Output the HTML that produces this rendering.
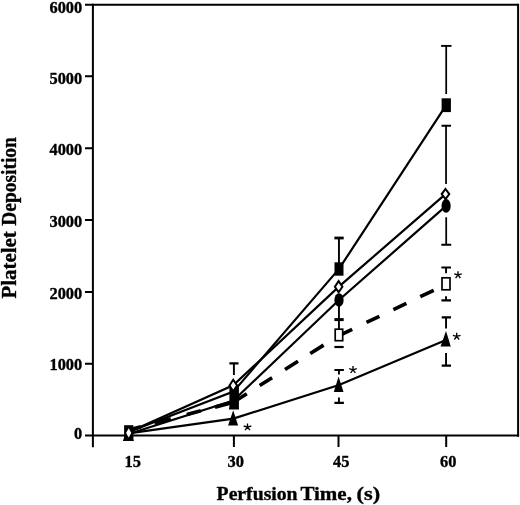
<!DOCTYPE html>
<html>
<head>
<meta charset="utf-8">
<title>Platelet Deposition vs Perfusion Time</title>
<style>
  html, body { margin: 0; padding: 0; background: #ffffff; }
  body { width: 520px; height: 505px; overflow: hidden; }
  svg { display: block; filter: grayscale(1); }
  text { font-family: "Liberation Serif", serif; font-weight: bold; fill: #000; stroke: #000; stroke-width: 0.35px; stroke-linejoin: round; }
  .tick { font-size: 16.4px; }
  .title { font-size: 19.2px; }
  .ytitle { font-size: 21px; }
  .ax { stroke: #000; stroke-width: 2; fill: none; stroke-linecap: butt; }
  .ln { stroke: #000; stroke-width: 2.2; fill: none; }
  .dash { stroke: #000; stroke-width: 3.7; fill: none; }
  .eb { stroke: #000; stroke-width: 1.9; fill: none; }
  .cap { stroke: #000; stroke-width: 2.2; fill: none; }
  .fill { fill: #000; stroke: none; }
  .open { fill: #fff; stroke: #000; stroke-width: 1.7; }
  .dia { fill: #fff; stroke: #000; stroke-width: 2; stroke-linejoin: miter; }
  .star { font-family: "Liberation Sans", sans-serif; font-weight: bold; font-size: 17px; }
</style>
</head>
<body>
<svg width="520" height="505" viewBox="0 0 520 505">
  <rect x="0" y="0" width="520" height="505" fill="#ffffff"/>

  <!-- frame -->
  <g id="frame">
    <path class="ax" d="M92.9 3.8 V447.2"/>
    <path class="ax" d="M85 4.8 H518"/>
    <path class="ax" d="M518.1 3.8 V436.7"/>
    <path class="ax" d="M85 435.55 H519.1"/>
    <!-- y ticks -->
    <path class="ax" d="M85 76.3 H93 M85 148.2 H93 M85 220 H93 M85 291.9 H93 M85 363.7 H93"/>
    <!-- x ticks -->
    <path class="ax" d="M233.9 435 V447.1 M338.5 435 V447.1 M446.2 435 V447.1"/>
  </g>

  <!-- y tick labels -->
  <g id="ylabels" class="tick" text-anchor="end">
    <text transform="translate(82.2 13.1) scale(1 1.06)">6000</text>
    <text transform="translate(82.2 83.6) scale(1 1.06)">5000</text>
    <text transform="translate(82.2 154.7) scale(1 1.06)">4000</text>
    <text transform="translate(82.2 227.3) scale(1 1.06)">3000</text>
    <text transform="translate(82.2 299.1) scale(1 1.06)">2000</text>
    <text transform="translate(82.2 369.6) scale(1 1.06)">1000</text>
    <text transform="translate(82.2 439.2) scale(1 1.06)">0</text>
  </g>

  <!-- x tick labels -->
  <g id="xlabels" class="tick" text-anchor="middle">
    <text transform="translate(132.8 467.3) scale(1 1.06)">15</text>
    <text transform="translate(235.8 467.3) scale(1 1.06)">30</text>
    <text transform="translate(341.3 467.3) scale(1 1.06)">45</text>
    <text transform="translate(448.3 467.3) scale(1 1.06)">60</text>
  </g>

  <!-- axis titles -->
  <text class="title" x="216.6" y="499.6" textLength="81" lengthAdjust="spacingAndGlyphs">Perfusion</text>
  <text class="title" x="300.4" y="499.6" textLength="51.5" lengthAdjust="spacingAndGlyphs">Time,</text>
  <text class="title" x="356.6" y="499.6" textLength="23.6" lengthAdjust="spacingAndGlyphs">(s)</text>
  <text class="ytitle" transform="translate(15.6 298.4) rotate(-90)" textLength="67" lengthAdjust="spacingAndGlyphs">Platelet</text>
  <text class="ytitle" transform="translate(15.6 225.7) rotate(-90)" textLength="88.6" lengthAdjust="spacingAndGlyphs">Deposition</text>

  <!-- series lines -->
  <g id="lines">
    <!-- filled square -->
    <path class="ln" d="M128.5 432 L233.4 391.6 L339 268.9 L446.2 105.2"/>
    <!-- open diamond -->
    <path class="ln" d="M128.5 432.2 L233.2 385.3 L338.6 286.9 L445.5 194.1"/>
    <!-- filled circle -->
    <path class="ln" d="M128.5 434 L233.4 400.6 L339 300 L446.1 205.9"/>
    <!-- triangle -->
    <path class="ln" d="M128.5 433.3 L233.4 418.6 L339 385 L446 340"/>
    <!-- open square dashed -->
    <path class="dash" d="M128.5 430.0 L141.0 426.7 M154.5 423.1 L170.8 418.8 M186.8 414.5 L200.8 410.8 M215.0 407.1 L233.4 402.2"/>
    <path class="dash" d="M233.4 402.2 L246.8 393.7 M259.7 385.5 L272.1 377.7 M285.0 369.5 L298.0 361.3 M310.3 353.5 L323.6 345.1"/>
    <path class="dash" d="M339.0 335.6 L352.2 329.3 M366.5 322.4 L379.4 316.3 M393.4 309.6 L406.4 303.3 M420.3 296.7 L433.7 290.3"/>
  </g>

  <!-- error bars -->
  <g id="errorbars">
    <!-- x=30 -->
    <path class="eb" d="M233.9 363.3 V375"/>
    <path class="cap" d="M229.4 363.3 H238.5 M229 408.5 H239"/>
    <!-- x=45 filled square up -->
    <path class="eb" d="M338.95 238 V263"/>
    <path class="cap" d="M334.4 238 H343.7" style="stroke-width:2.8"/>
    <!-- x=45 circle down / open sq up -->
    <path class="eb" d="M338.95 305 V329"/>
    <path class="cap" d="M334.4 319.6 H343.7" style="stroke-width:3"/>
    <!-- open sq down -->
    <path class="cap" d="M334.4 347 H343.7"/>
    <!-- x=45 triangle -->
    <path class="eb" d="M338.95 370 V374.6 M338.95 397.6 V402.9"/>
    <path class="cap" d="M334.4 370 H343.9 M334.4 402.9 H343.9"/>
    <!-- x=60 filled square up -->
    <path class="eb" d="M446.2 46 V94" style="stroke-width:1.75"/>
    <path class="cap" d="M441.1 45.9 H451.5" style="stroke-width:1.9"/>
    <!-- x=60 diamond up / circle down -->
    <path class="eb" d="M446.05 125.7 V184 M446.2 217.2 V244.6" style="stroke-width:1.75"/>
    <path class="cap" d="M441.5 125.7 H451 M441.3 244.7 H451.2" style="stroke-width:1.9"/>
    <!-- x=60 open square -->
    <path class="eb" d="M446.05 267.5 V273.2 M446.05 296.3 V300.3"/>
    <path class="cap" d="M441.4 267.5 H451 M441.4 300.3 H451"/>
    <!-- x=60 triangle -->
    <path class="eb" d="M446.05 317.4 V328.4 M446.05 352.9 V365.7"/>
    <path class="cap" d="M441.7 317.4 H451 M441.7 365.7 H451"/>
  </g>

  <!-- markers -->
  <g id="markers">
    <!-- x=15 cluster -->
    <polygon class="fill" points="128.4,426 133.8,441 122.8,441"/>
    <rect class="fill" x="124.1" y="425.2" width="9.3" height="15.7"/>
    <polygon points="128.7,428.3 131.3,432.9 128.7,437.5 126.1,432.9" fill="#fff"/>

    <!-- x=30 cluster -->
    <rect class="fill" x="229.4" y="386.7" width="9.5" height="21.8"/>
    <polygon class="dia" points="233.2,379.8 237.1,385.5 233.2,391.2 229.5,385.5"/>
    <polygon class="fill" points="233.2,410.2 238.1,425.6 228.1,425.6"/>

    <!-- x=45 -->
    <rect class="fill" x="334.5" y="262.3" width="9" height="13.4"/>
    <polygon class="dia" points="338.6,281.1 342.4,286.7 338.6,292.3 334.9,286.7"/>
    <ellipse class="fill" cx="339" cy="300" rx="4.65" ry="6.8"/>
    <rect class="open" x="335.2" y="329.2" width="7.5" height="11.5"/>
    <polygon class="fill" points="338.6,376.6 343.5,391.9 333.8,391.9"/>

    <!-- x=60 -->
    <rect class="fill" x="441.6" y="98.3" width="9.3" height="13.8"/>
    <polygon class="dia" points="445.5,189 449.3,194.1 445.5,199.2 441.7,194.1"/>
    <ellipse class="fill" cx="446.1" cy="205.9" rx="4.6" ry="6.8"/>
    <rect class="open" x="442" y="277.8" width="8" height="12"/>
    <polygon class="fill" points="446,331 450.8,346.5 440.6,346.5"/>
  </g>

  <!-- significance stars -->
  <defs>
    <path id="ast" d="M0 0 L0 -3.7 M0 0 L-3.8 -1.1 M0 0 L3.8 -1.1 M0 0 L-2.4 3.1 M0 0 L2.4 3.1" stroke="#000" stroke-width="1.35" fill="none"/>
  </defs>
  <g id="stars">
    <use href="#ast" x="247.5" y="427.1"/>
    <use href="#ast" x="353" y="369.8"/>
    <use href="#ast" x="458" y="274.9"/>
    <use href="#ast" x="456.7" y="336.4"/>
  </g>
</svg>
</body>
</html>
